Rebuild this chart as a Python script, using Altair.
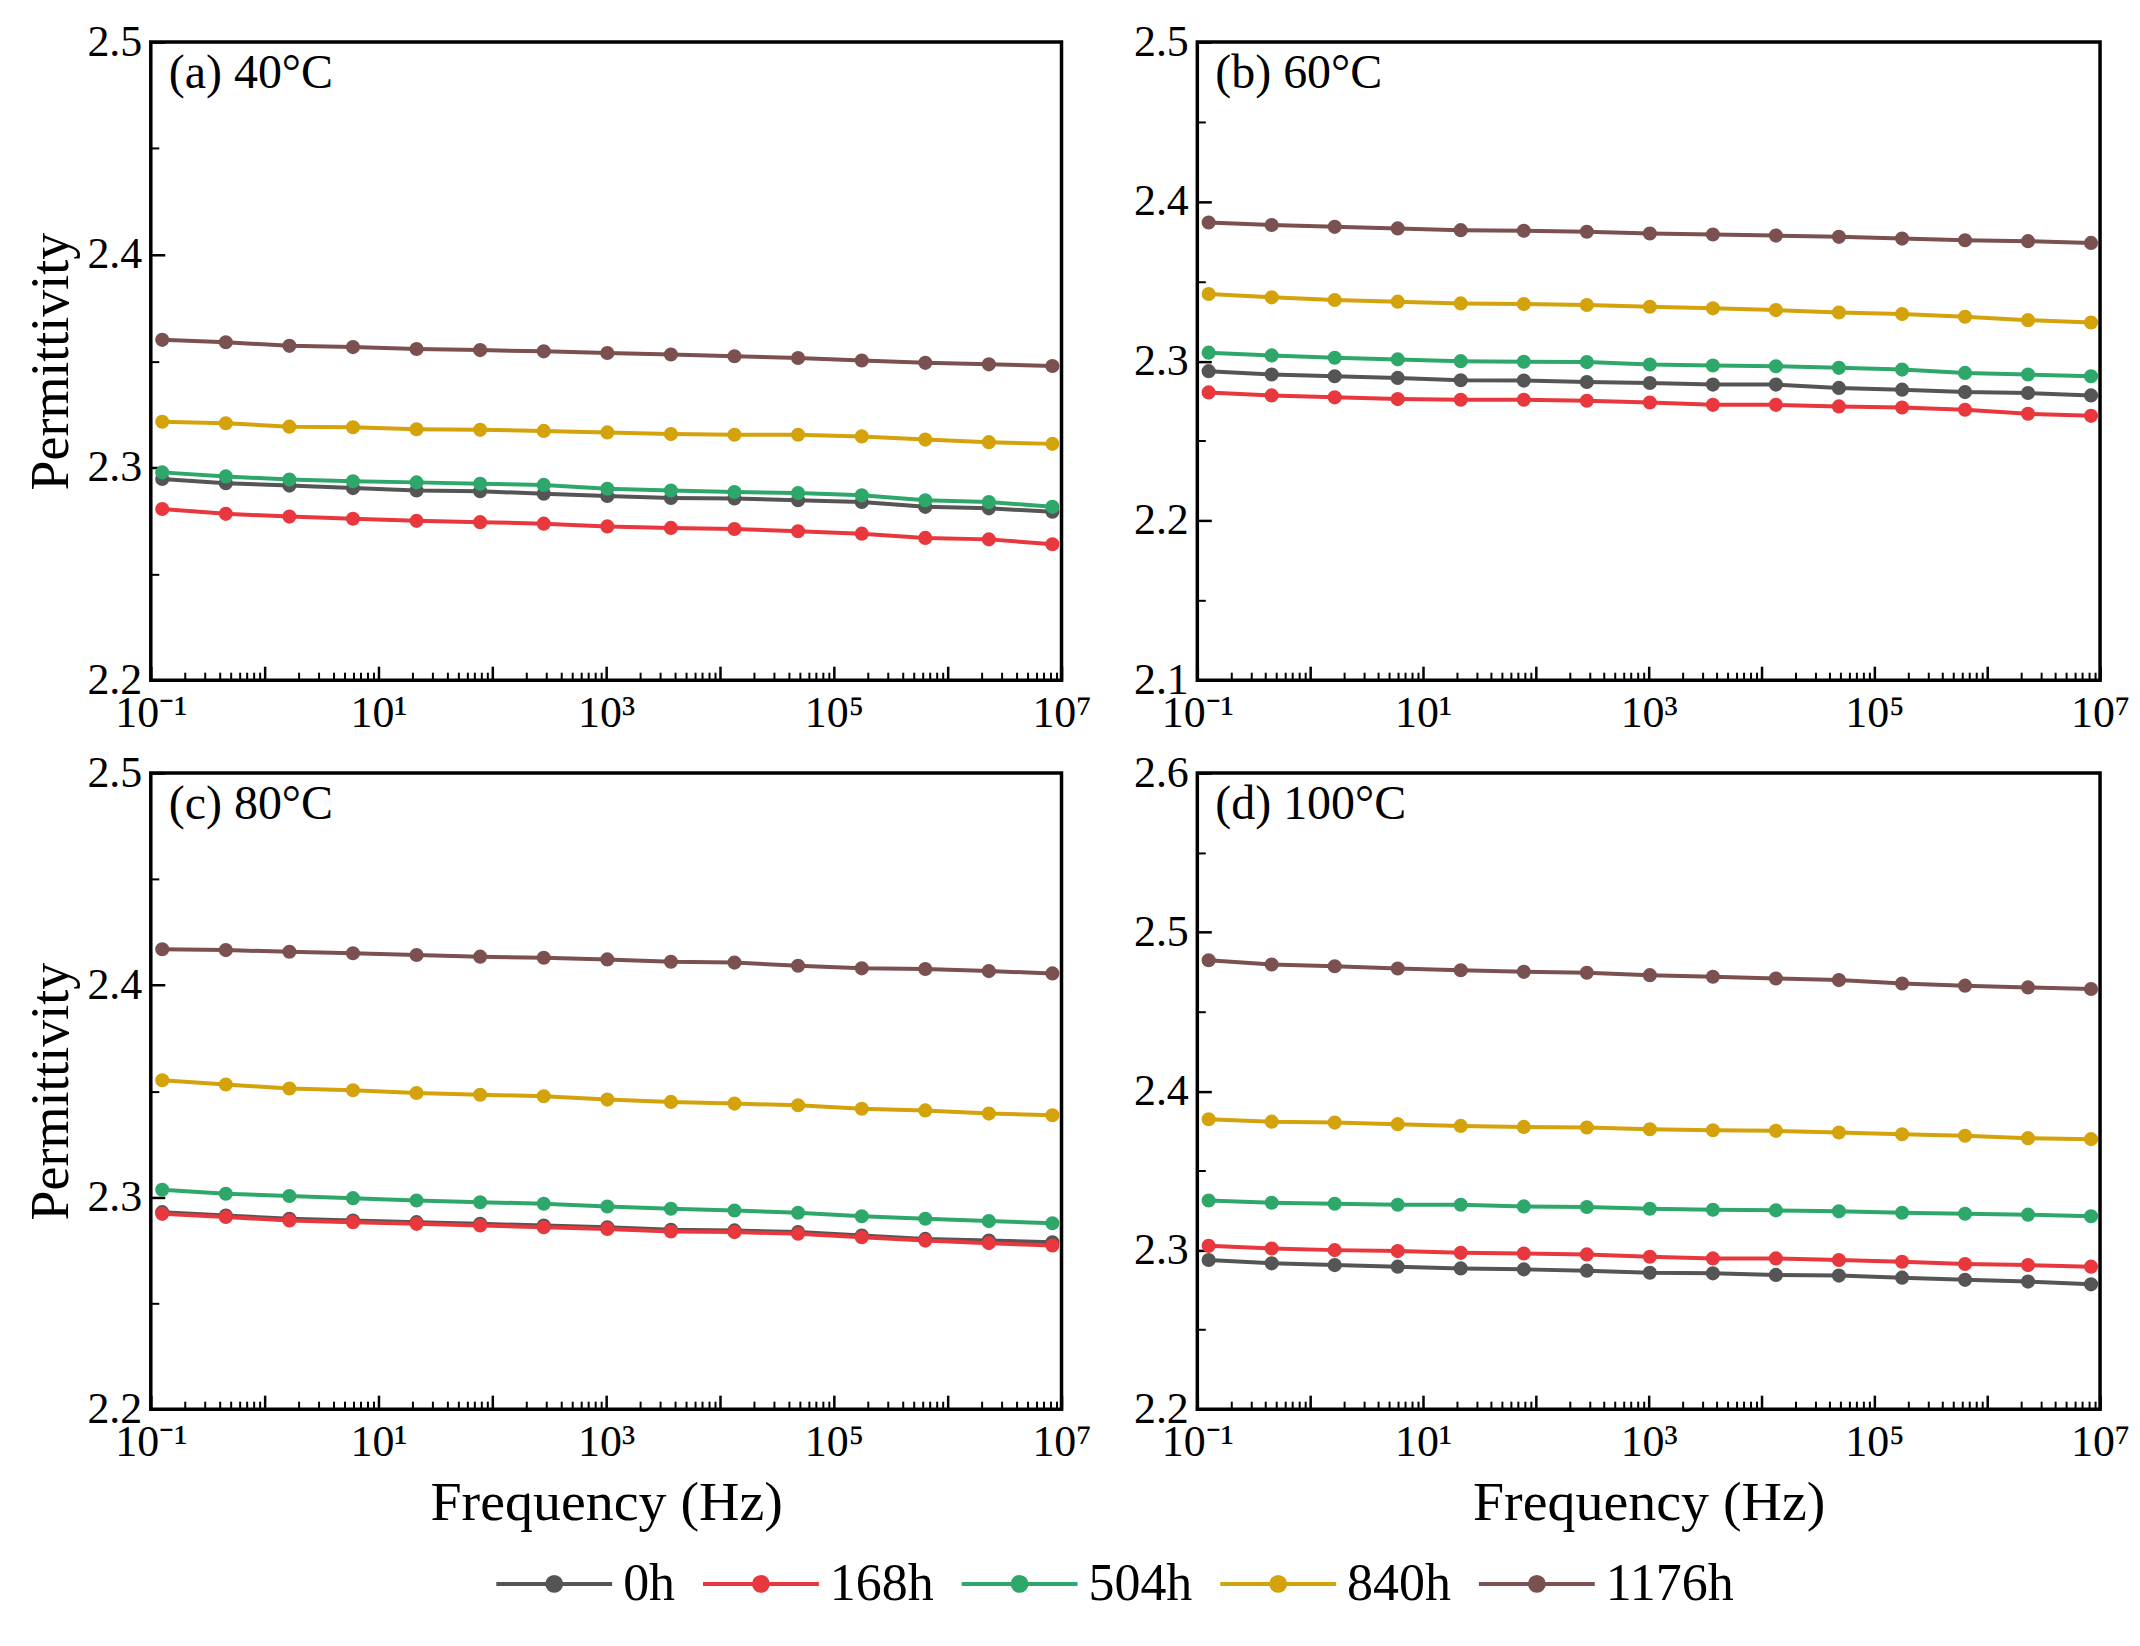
import math
import altair as alt
import pandas as pd

# ---------------- data ----------------
freqs = [0.126, 0.456, 1.65, 5.97, 21.6, 78.2, 283, 1024, 3707, 13400,
         48500, 176000, 636000, 2300000, 8320000]
series_names = ["0h", "168h", "504h", "840h", "1176h"]
series_colors = ["#555555", "#e8383d", "#2ea86a", "#d4a20a", "#7a5050"]

a_0h = [2.2946, 2.2926, 2.2915, 2.2903, 2.2892, 2.2888, 2.2877, 2.2866, 2.2857, 2.2854, 2.2846, 2.2838, 2.2815, 2.2808, 2.2792]
a_168h = [2.2805, 2.2782, 2.2769, 2.2759, 2.2749, 2.2743, 2.2736, 2.2723, 2.2716, 2.2711, 2.2700, 2.2689, 2.2669, 2.2662, 2.2639]
a_504h = [2.2977, 2.2958, 2.2943, 2.2935, 2.2930, 2.2923, 2.2918, 2.2900, 2.2892, 2.2885, 2.2880, 2.2869, 2.2846, 2.2838, 2.2815]
a_840h = [2.3215, 2.3208, 2.3192, 2.3189, 2.3180, 2.3177, 2.3172, 2.3165, 2.3157, 2.3154, 2.3154, 2.3146, 2.3131, 2.3119, 2.3111]
a_1176h = [2.3600, 2.3589, 2.3572, 2.3566, 2.3557, 2.3552, 2.3546, 2.3538, 2.3531, 2.3523, 2.3515, 2.3503, 2.3492, 2.3485, 2.3477]

b_0h = [2.2937, 2.2916, 2.2905, 2.2895, 2.2880, 2.2878, 2.2869, 2.2863, 2.2853, 2.2853, 2.2832, 2.2821, 2.2806, 2.2800, 2.2785]
b_168h = [2.2804, 2.2785, 2.2773, 2.2762, 2.2758, 2.2758, 2.2752, 2.2741, 2.2726, 2.2726, 2.2716, 2.2709, 2.2695, 2.2670, 2.2657]
b_504h = [2.3053, 2.3036, 2.3021, 2.3011, 2.3000, 2.2996, 2.2994, 2.2979, 2.2973, 2.2968, 2.2958, 2.2947, 2.2926, 2.2916, 2.2905]
b_840h = [2.3421, 2.3400, 2.3383, 2.3373, 2.3362, 2.3358, 2.3352, 2.3341, 2.3331, 2.3320, 2.3305, 2.3295, 2.3278, 2.3257, 2.3242]
b_1176h = [2.3869, 2.3853, 2.3842, 2.3832, 2.3821, 2.3817, 2.3811, 2.3800, 2.3794, 2.3787, 2.3779, 2.3768, 2.3758, 2.3752, 2.3741]

c_0h = [2.2929, 2.2913, 2.2898, 2.2890, 2.2882, 2.2874, 2.2866, 2.2858, 2.2846, 2.2843, 2.2835, 2.2819, 2.2803, 2.2795, 2.2787]
c_168h = [2.2921, 2.2906, 2.2890, 2.2882, 2.2874, 2.2866, 2.2858, 2.2850, 2.2838, 2.2835, 2.2827, 2.2811, 2.2795, 2.2783, 2.2772]
c_504h = [2.3035, 2.3016, 2.3005, 2.2995, 2.2984, 2.2976, 2.2969, 2.2956, 2.2945, 2.2937, 2.2926, 2.2910, 2.2898, 2.2887, 2.2877]
c_840h = [2.3551, 2.3531, 2.3512, 2.3504, 2.3491, 2.3483, 2.3476, 2.3460, 2.3449, 2.3441, 2.3433, 2.3417, 2.3409, 2.3394, 2.3386]
c_1176h = [2.4169, 2.4165, 2.4157, 2.4150, 2.4142, 2.4134, 2.4129, 2.4121, 2.4110, 2.4106, 2.4091, 2.4079, 2.4076, 2.4066, 2.4055]

d_0h = [2.2938, 2.2917, 2.2906, 2.2896, 2.2885, 2.2879, 2.2871, 2.2858, 2.2854, 2.2844, 2.2840, 2.2827, 2.2813, 2.2802, 2.2785]
d_168h = [2.3027, 2.3010, 2.3000, 2.2994, 2.2983, 2.2979, 2.2973, 2.2958, 2.2948, 2.2948, 2.2938, 2.2927, 2.2913, 2.2906, 2.2896]
d_504h = [2.3312, 2.3298, 2.3292, 2.3285, 2.3285, 2.3275, 2.3271, 2.3260, 2.3254, 2.3250, 2.3244, 2.3235, 2.3229, 2.3223, 2.3213]
d_840h = [2.3823, 2.3808, 2.3802, 2.3792, 2.3781, 2.3775, 2.3771, 2.3760, 2.3754, 2.3750, 2.3740, 2.3729, 2.3719, 2.3704, 2.3698]
d_1176h = [2.4823, 2.4796, 2.4785, 2.4771, 2.4760, 2.4750, 2.4744, 2.4729, 2.4719, 2.4708, 2.4698, 2.4677, 2.4663, 2.4652, 2.4642]

panel_labels = ["(a) 40°C", "(b) 60°C", "(c) 80°C", "(d) 100°C"]
panel_series = [
    [a_0h, a_168h, a_504h, a_840h, a_1176h],
    [b_0h, b_168h, b_504h, b_840h, b_1176h],
    [c_0h, c_168h, c_504h, c_840h, c_1176h],
    [d_0h, d_168h, d_504h, d_840h, d_1176h],
]
y_domains = [[2.2, 2.5], [2.1, 2.5], [2.2, 2.5], [2.2, 2.6]]

x_domain = [0.1, 1e7]
x_label_values = [0.1, 10, 1e3, 1e5, 1e7]
x_tick_labels = ["10⁻¹", "10¹", "10³", "10⁵", "10⁷"]
x_major = [10.0 ** k for k in range(-1, 8)]
x_minor = [m * 10.0 ** k for k in range(-1, 7) for m in range(2, 10)]

x_title = "Frequency (Hz)"
y_title = "Permittivity"

FONT = "Liberation Serif"

# label expression built from the tick label list
expr = "''"
for v, lab in reversed(list(zip(x_label_values, x_tick_labels))):
    expr = f"abs(log(datum.value)/log(10) - ({math.log10(v)})) < 0.01 ? '{lab}' : ({expr})"

legend_symbol = ("M-1,0L1,0M-0.12,0A0.12,0.12,0,1,1,0.12,0"
                 "A0.12,0.12,0,1,1,-0.12,0Z")

color_scale = alt.Scale(domain=series_names, range=series_colors)
leg = dict(title=None, symbolType=legend_symbol, symbolSize=13456,
           symbolStrokeWidth=4, labelFont=FONT, labelFontSize=52)


def make_panel(i, width, height, show_ytitle, show_xtitle):
    rows = []
    for name, vals in zip(series_names, panel_series[i]):
        for f, v in zip(freqs, vals):
            rows.append({"freq": f, "value": v, "series": name})
    df = pd.DataFrame(rows)

    xscale = alt.Scale(type="log", domain=x_domain, nice=False)
    yscale = alt.Scale(domain=y_domains[i], nice=False, zero=False)
    y0 = y_domains[i][0]
    y1 = y_domains[i][1]
    n = int(round((y1 - y0) / 0.1))
    y_major = [round(y0 + 0.1 * k, 2) for k in range(n + 1)]
    y_minor = [round(y0 + 0.05 + 0.1 * k, 3) for k in range(n)]

    xlab_kwargs = dict(orient="bottom", values=x_label_values, labelExpr=expr,
                       tickSize=0, domain=False, grid=False,
                       labelFont=FONT, labelFontSize=44, labelColor="black",
                       labelPadding=11, labelFlush=False, labelOverlap=False)
    if show_xtitle:
        xlab_kwargs.update(title=x_title, titleFont=FONT, titleFontSize=56,
                           titleFontWeight="normal", titleColor="black",
                           titlePadding=12)
    else:
        xlab_kwargs.update(title=None)
    ylab_kwargs = dict(orient="left", values=y_major, format=".1f",
                       tickSize=0, domain=False, grid=False,
                       labelFont=FONT, labelFontSize=44, labelColor="black",
                       labelPadding=9, labelFlush=False, labelOverlap=False)
    if show_ytitle:
        ylab_kwargs.update(title=y_title, titleFont=FONT, titleFontSize=54,
                           titleFontWeight="normal", titleColor="black",
                           titlePadding=8)
    else:
        ylab_kwargs.update(title=None)

    base = alt.Chart(df)
    lines = base.mark_line(strokeWidth=4).encode(
        x=alt.X("freq:Q", scale=xscale, axis=alt.Axis(**xlab_kwargs)),
        y=alt.Y("value:Q", scale=yscale, axis=alt.Axis(**ylab_kwargs)),
        color=alt.Color("series:N", scale=color_scale, legend=alt.Legend(**leg)),
        detail="series:N",
    )
    points = base.mark_point(filled=True, size=200, opacity=1).encode(
        x=alt.X("freq:Q", scale=xscale,
                axis=alt.Axis(orient="bottom", values=x_major, labels=False,
                              tickSize=14, tickWidth=2.5, tickColor="black",
                              domain=False, grid=False, offset=-14, title=None)),
        y=alt.Y("value:Q", scale=yscale,
                axis=alt.Axis(orient="left", values=y_major, labels=False,
                              tickSize=14, tickWidth=2.5, tickColor="black",
                              domain=False, grid=False, offset=-14, title=None)),
        color=alt.Color("series:N", scale=color_scale, legend=alt.Legend(**leg)),
    )
    minor = base.mark_point(opacity=0).encode(
        x=alt.X("freq:Q", scale=xscale,
                axis=alt.Axis(orient="bottom", values=x_minor, labels=False,
                              tickSize=8, tickWidth=2, tickColor="black",
                              domain=False, grid=False, offset=-8, title=None)),
        y=alt.Y("value:Q", scale=yscale,
                axis=alt.Axis(orient="left", values=y_minor, labels=False,
                              tickSize=8, tickWidth=2, tickColor="black",
                              domain=False, grid=False, offset=-8, title=None)),
    )
    label = alt.Chart(pd.DataFrame({"t": [panel_labels[i]]})).mark_text(
        font=FONT, fontSize=48, align="left", baseline="top", color="black"
    ).encode(text="t:N", x=alt.value(18), y=alt.value(8))

    return alt.layer(lines, points, minor, label).resolve_axis(
        x="independent", y="independent"
    ).properties(width=width, height=height)


pa = make_panel(0, 912, 639, True, False)
pb = make_panel(1, 904, 639, False, False)
pc = make_panel(2, 912, 637, True, True)
pd_ = make_panel(3, 904, 637, False, True)

chart = alt.concat(pa, pb, pc, pd_, columns=2, spacing={"row": 93, "column": 136},
                   bounds="flush").properties(
    padding={"left": 15, "top": 9, "right": 0, "bottom": 0}
).configure_view(
    stroke="black", strokeWidth=3.5
).configure_legend(
    orient="none", legendX=344, legendY=1484, direction="horizontal",
    columnPadding=20, labelOffset=9, labelColor="black", symbolStrokeWidth=4
)

chart.save("out.html", embed_options={"renderer": "svg", "actions": False})
